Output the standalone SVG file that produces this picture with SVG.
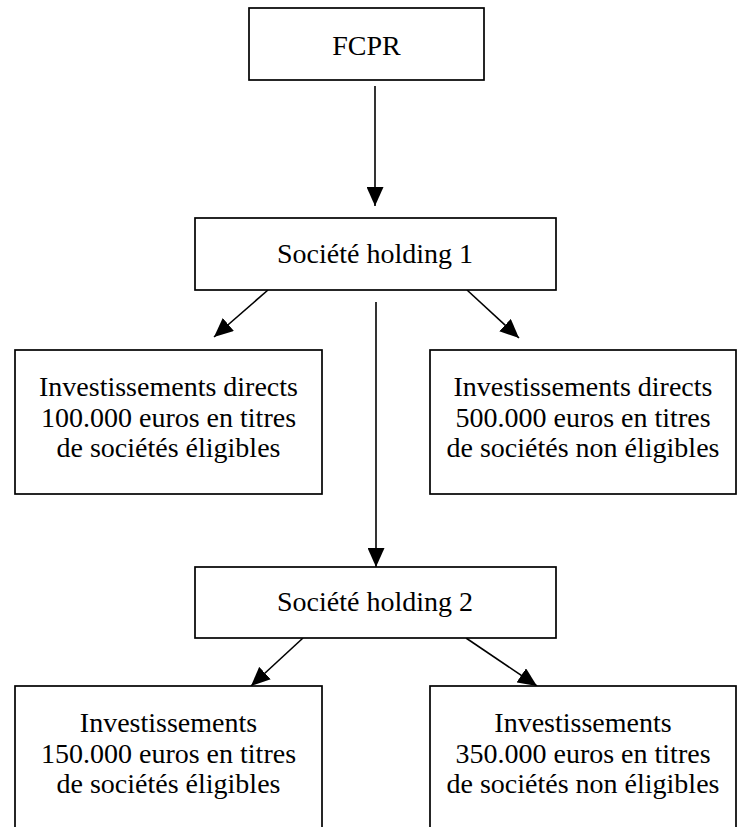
<svg xmlns="http://www.w3.org/2000/svg" width="738" height="827" viewBox="0 0 738 827">
  <style>
    .box { fill: #ffffff; stroke: #000000; stroke-width: 1.7; }
    .lbl { font-family: "Liberation Serif", "Times New Roman", "DejaVu Serif", serif; font-size: 28px; fill: #000000; text-anchor: middle; }
    .edge { fill: none; stroke: #000000; stroke-width: 1.6; }
  </style>
  <defs>
    <marker id="arrow" markerUnits="userSpaceOnUse" viewBox="0 0 19 17" markerWidth="19" markerHeight="17" refX="19" refY="8.5" orient="auto">
      <path d="M0,0 L19,8.5 L0,17 Z" fill="#000000"/>
    </marker>
  </defs>
  <rect x="0" y="0" width="738" height="827" fill="#ffffff"/>

  <g id="connectors">
    <line class="edge" x1="375" y1="86" x2="375" y2="206" marker-end="url(#arrow)"/>
    <line class="edge" x1="268" y1="290" x2="214" y2="337" marker-end="url(#arrow)"/>
    <line class="edge" x1="467" y1="290" x2="519" y2="338" marker-end="url(#arrow)"/>
    <line class="edge" x1="376" y1="302" x2="376" y2="567" marker-end="url(#arrow)"/>
    <line class="edge" x1="303" y1="638" x2="251" y2="686" marker-end="url(#arrow)"/>
    <line class="edge" x1="466" y1="638" x2="537" y2="686" marker-end="url(#arrow)"/>
  </g>

  <g id="fcpr">
    <rect class="box" x="249" y="8" width="235" height="72"/>
    <text class="lbl" x="366.5" y="55">FCPR</text>
  </g>

  <g id="holding1">
    <rect class="box" x="195" y="218" width="361" height="72"/>
    <text class="lbl" x="375" y="263">Société holding 1</text>
  </g>

  <g id="direct-eligible">
    <rect class="box" x="15" y="350" width="307" height="144"/>
    <text class="lbl" x="168.5" y="396">Investissements directs</text>
    <text class="lbl" x="168.5" y="427">100.000 euros en titres</text>
    <text class="lbl" x="168.5" y="457">de sociétés éligibles</text>
  </g>

  <g id="direct-non-eligible">
    <rect class="box" x="430" y="350" width="306" height="144"/>
    <text class="lbl" x="583" y="396">Investissements directs</text>
    <text class="lbl" x="583" y="427">500.000 euros en titres</text>
    <text class="lbl" x="583" y="457">de sociétés non éligibles</text>
  </g>

  <g id="holding2">
    <rect class="box" x="195" y="567" width="361" height="71"/>
    <text class="lbl" x="375" y="611">Société holding 2</text>
  </g>

  <g id="indirect-eligible">
    <rect class="box" x="15" y="686" width="307" height="160"/>
    <text class="lbl" x="168.5" y="732">Investissements</text>
    <text class="lbl" x="168.5" y="763">150.000 euros en titres</text>
    <text class="lbl" x="168.5" y="793">de sociétés éligibles</text>
  </g>

  <g id="indirect-non-eligible">
    <rect class="box" x="430" y="686" width="306" height="160"/>
    <text class="lbl" x="583" y="732">Investissements</text>
    <text class="lbl" x="583" y="763">350.000 euros en titres</text>
    <text class="lbl" x="583" y="793">de sociétés non éligibles</text>
  </g>
</svg>
